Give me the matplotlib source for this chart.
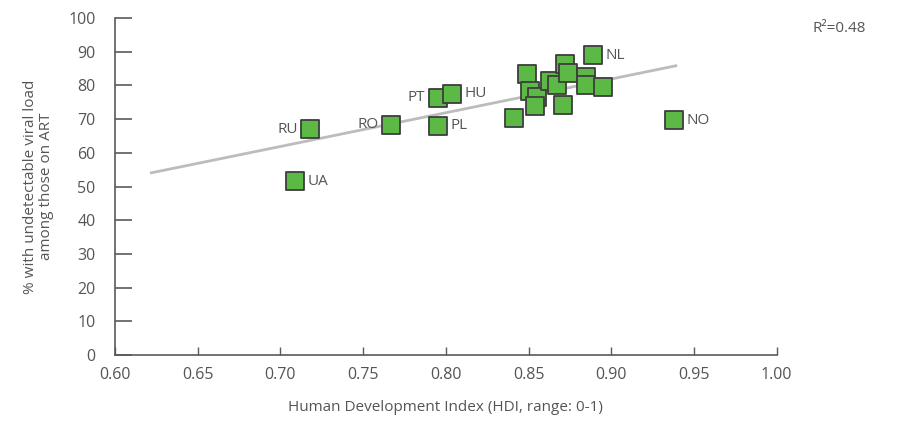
import numpy as np
import matplotlib.pyplot as plt

plt.rcParams['font.family'] = ['Open Sans', 'DejaVu Sans']

# HDI vs share with undetectable viral load
hdi = [0.718, 0.709, 0.767, 0.795, 0.804, 0.795, 0.889, 0.938,
       0.841, 0.849, 0.851, 0.855, 0.854, 0.863, 0.867, 0.872,
       0.874, 0.871, 0.885, 0.885, 0.895]
suppressed = [67.0, 51.5, 68.3, 76.3, 77.5, 68.0, 89.0, 69.7,
              70.3, 83.5, 78.3, 76.6, 74.0, 81.3, 80.0, 86.5,
              83.8, 74.2, 82.6, 80.0, 79.5]
labels = ['RU', 'UA', 'RO', 'PT', 'HU', 'PL', 'NL', 'NO'] + [''] * 13
label_side = ['left', 'right', 'left', 'left', 'right', 'right', 'right', 'right'] + [''] * 13

x_ticks = [0.60, 0.65, 0.70, 0.75, 0.80, 0.85, 0.90, 0.95, 1.00]
y_ticks = list(range(0, 101, 10))
fit_range = (0.622, 0.939)

text_col = '#555555'
axis_col = '#5a5a5a'

fig = plt.figure(figsize=(8.98, 4.21), dpi=100)
ax = fig.add_axes([0.128, 0.157, 0.737, 0.80])

# linear trend line
slope, intercept = np.polyfit(hdi, suppressed, 1)
xs = np.array(fit_range)
ax.plot(xs, slope * xs + intercept, color='#bcbcbc', lw=2, zorder=1)

ax.scatter(hdi, suppressed, marker='s', s=180, facecolor='#5db946',
           edgecolor='#3d3d3d', linewidth=1.3, zorder=3)

for x, y, lab, side in zip(hdi, suppressed, labels, label_side):
    if not lab:
        continue
    dx = 9 if side == 'right' else -9
    ax.annotate(lab, (x, y), xytext=(dx, 0), textcoords='offset points',
                ha='left' if side == 'right' else 'right', va='center',
                fontsize=11, color=text_col, zorder=4)

ax.set_xlim(0.60, 1.00)
ax.set_ylim(0, 100)
ax.set_xticks(x_ticks)
ax.set_xticklabels([f'{t:.2f}' for t in x_ticks])
ax.set_yticks(y_ticks)

for side in ['top', 'right']:
    ax.spines[side].set_visible(False)
for side in ['left', 'bottom']:
    ax.spines[side].set_color(axis_col)
    ax.spines[side].set_linewidth(1.2)

ax.tick_params(axis='y', direction='in', length=12, width=1.2, color=axis_col,
               labelsize=11.5, labelcolor=text_col, pad=14)
ax.tick_params(axis='x', direction='in', length=6, width=1, color=axis_col,
               labelsize=11.5, labelcolor=text_col, pad=9)

ax.set_xlabel('Human Development Index (HDI, range: 0-1)', fontsize=11,
              color=text_col, labelpad=12)
ax.set_ylabel('% with undetectable viral load\namong those on ART', fontsize=11,
              color=text_col, labelpad=10, linespacing=1.1)

fig.text(0.935, 0.925, 'R²=0.48', fontsize=11, color=text_col, ha='center')

fig.savefig('out.png', dpi=100)
